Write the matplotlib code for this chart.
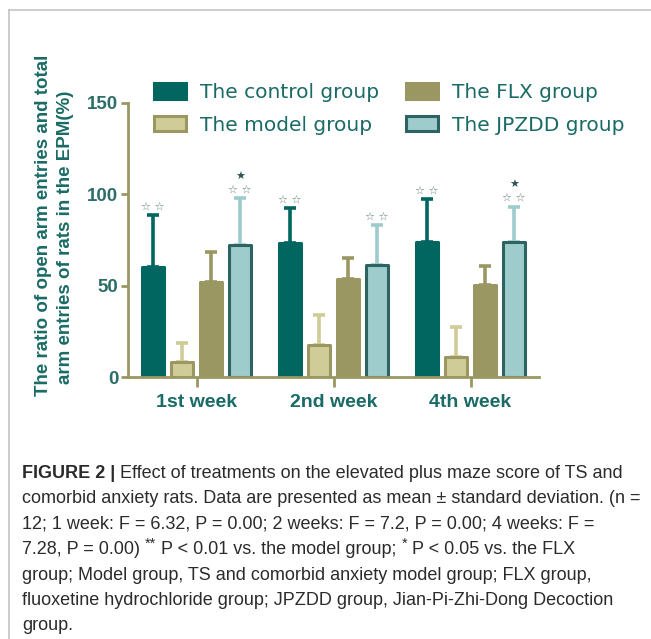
import matplotlib
matplotlib.use("Agg")
import matplotlib.pyplot as plt
from matplotlib.patches import Patch
from matplotlib.lines import Line2D
import numpy as np

# ---- data -------------------------------------------------------------
weeks = ["1st week", "2nd week", "4th week"]
groups = ["The control group", "The model group", "The FLX group", "The JPZDD group"]
control_mean = [60.4, 73.5, 74.1]
control_sd = [28.1, 18.9, 23.2]
model_mean = [8.4, 17.5, 11.1]
model_sd = [10.4, 16.5, 16.4]
flx_mean = [52.2, 53.5, 50.4]
flx_sd = [16.1, 11.8, 10.6]
jpzdd_mean = [72.3, 61.3, 74.1]
jpzdd_sd = [25.6, 21.9, 19.2]
# significance marks: "**" vs. model group, "*" vs. FLX group
vs_model = [[True, False, False, True],
            [True, False, False, True],
            [True, False, False, True]]
vs_flx = [[False, False, False, True],
          [False, False, False, False],
          [False, False, False, True]]
y_ticks = [0, 50, 100, 150]

means = [control_mean, model_mean, flx_mean, jpzdd_mean]
sds = [control_sd, model_sd, flx_sd, jpzdd_sd]

# ---- styling ----------------------------------------------------------
olive = "#9b9763"
fills = ["#00665f", "#cfcc97", "#9b9763", "#9ecbcb"]
edges = ["#00665f", "#9b9763", "#9b9763", "#2d6462"]
errc = ["#00665f", "#cfcc97", "#9b9763", "#9ecbcb"]
teal_text = "#1a6b66"
tick_text = "#2e6e69"
star_c = "#5f7f7d"

fig = plt.figure(figsize=(6.51, 6.39), dpi=100)

# outer frame lines (top and left)
fig.add_artist(Line2D([9 / 651, 1.0], [1 - 10 / 639, 1 - 10 / 639],
                      transform=fig.transFigure, color="#c4c4c4", lw=1.2))
fig.add_artist(Line2D([9 / 651, 9 / 651], [0.0, 1 - 10 / 639],
                      transform=fig.transFigure, color="#c4c4c4", lw=1.2))

ax = fig.add_axes([128 / 651, 1 - 377 / 639, (539 - 128) / 651, (377 - 103) / 639])

x = np.arange(len(weeks))
pitch = 0.212
width = 0.155
offsets = (np.arange(4) - 1.5) * pitch

for g in range(4):
    xs = x + offsets[g]
    ax.errorbar(xs, means[g], yerr=[np.zeros(3), sds[g]], fmt="none",
                ecolor=errc[g], elinewidth=2.6, capsize=4.5, capthick=2.6,
                zorder=1)
    ax.bar(xs, means[g], width=width, color=fills[g], edgecolor=edges[g],
           linewidth=2.2, zorder=2, joinstyle="round")
    for w in range(3):
        top = means[g][w] + sds[g][w]
        if vs_model[w][g]:
            ax.annotate("☆ ☆", xy=(xs[w], top), xytext=(0, 2.5),
                        textcoords="offset points", ha="center", va="bottom",
                        fontsize=8, color=star_c, family="DejaVu Sans")
        if vs_flx[w][g]:
            ax.annotate("★", xy=(xs[w], top), xytext=(0, 12),
                        textcoords="offset points", ha="center", va="bottom",
                        fontsize=8, color="#2d5553", family="DejaVu Sans")

ax.set_xlim(-0.5, 2.5)
ax.set_ylim(0, 150)
ax.set_yticks(y_ticks)
ax.set_xticks(x)
ax.set_xticklabels(weeks, fontsize=14, fontweight="bold", color=teal_text,
                   family="Liberation Sans")
ax.set_yticklabels([str(t) for t in y_ticks], fontsize=13.5, fontweight="bold",
                   color=tick_text, family="Liberation Sans")
for s in ["top", "right"]:
    ax.spines[s].set_visible(False)
for s in ["left", "bottom"]:
    ax.spines[s].set_color(olive)
    ax.spines[s].set_linewidth(2)
ax.tick_params(axis="y", length=5, width=2, color=olive, pad=2)
ax.tick_params(axis="x", length=7, width=2, color=olive, pad=5)

# two-line y-axis title
fig.text(44 / 651, 1 - 225 / 639, "The ratio of open arm entries and total",
         rotation=90, ha="center", va="center",
         fontsize=13.5, fontweight="bold", color=teal_text,
         family="Liberation Sans")
fig.text(66 / 651, 1 - 237 / 639, "arm entries of rats in the EPM(%)",
         rotation=90, ha="center", va="center",
         fontsize=13.5, fontweight="bold", color=teal_text,
         family="Liberation Sans")

handles = [Patch(facecolor=fills[i], edgecolor=edges[i], linewidth=2.2)
           for i in range(4)]
leg = fig.legend(handles, groups, ncol=2, loc="upper left",
                 bbox_to_anchor=(154 / 651, 1 - 83 / 639),
                 frameon=False, fontsize=14.5, handlelength=1.6,
                 handleheight=0.8, handletextpad=0.7, labelspacing=0.68,
                 columnspacing=1.3, borderpad=0, borderaxespad=0)
for t in leg.get_texts():
    t.set_color(teal_text)

# ---- caption ----------------------------------------------------------
cap_font = ["Liberation Sans Narrow", "Liberation Sans"]
cap_size = 13
cap_color = "#2b2b2b"
cx = 22 / 651
line_y = [478 + 25.4 * i for i in range(7)]

b = fig.text(cx, 1 - line_y[0] / 639, "FIGURE 2 | ", fontsize=cap_size,
             fontweight="bold", family=cap_font, color=cap_color, va="baseline")
ax.annotate("Effect of treatments on the elevated plus maze score of TS and",
            xy=(1, 0), xycoords=b, ha="left", va="bottom",
            fontsize=cap_size, family=cap_font, color=cap_color,
            annotation_clip=False)

plain_lines = [
    "comorbid anxiety rats. Data are presented as mean ± standard deviation. (n =",
    "12; 1 week: F = 6.32, P = 0.00; 2 weeks: F = 7.2, P = 0.00; 4 weeks: F =",
    None,
    "group; Model group, TS and comorbid anxiety model group; FLX group,",
    "fluoxetine hydrochloride group; JPZDD group, Jian-Pi-Zhi-Dong Decoction",
    "group.",
]
for i, txt in enumerate(plain_lines, start=1):
    if txt is None:
        continue
    fig.text(cx, 1 - line_y[i] / 639, txt, fontsize=cap_size, family=cap_font,
             color=cap_color, va="baseline")

# line with raised significance marks
pieces = [("7.28, P = 0.00) ", False), ("**", True),
          (" P < 0.01 vs. the model group; ", False), ("*", True),
          (" P < 0.05 vs. the FLX", False)]
prev = fig.text(cx, 1 - line_y[3] / 639, pieces[0][0], fontsize=cap_size,
                family=cap_font, color=cap_color, va="baseline")
for txt, sup in pieces[1:]:
    if sup:
        prev = ax.annotate(txt, xy=(1, 0), xycoords=prev, xytext=(0, 5.5),
                           textcoords="offset points", ha="left", va="bottom",
                           fontsize=cap_size * 0.8, family=cap_font,
                           color=cap_color, annotation_clip=False)
    else:
        prev = ax.annotate(txt, xy=(1, 0), xycoords=prev, xytext=(0, -5.5),
                           textcoords="offset points", ha="left", va="bottom",
                           fontsize=cap_size, family=cap_font,
                           color=cap_color, annotation_clip=False)

fig.savefig("out.png", dpi=100)
